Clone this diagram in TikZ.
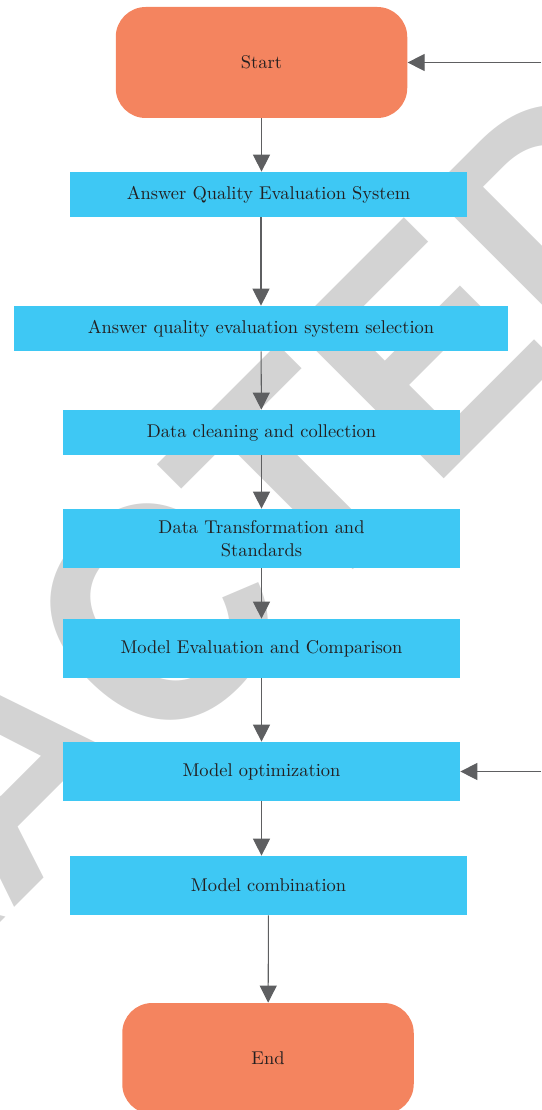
\documentclass[tikz,border=0pt]{standalone}
\usepackage{fontspec}
\usepackage{tikz}
\usetikzlibrary{arrows.meta,positioning}

\newfontfamily\stampfont{Liberation Sans}

\definecolor{termorange}{HTML}{F4845F}
\definecolor{stepblue}{HTML}{3EC8F4}
\definecolor{flowgray}{HTML}{5E5F61}
\definecolor{stampgray}{HTML}{D3D3D3}
\definecolor{labeltext}{HTML}{231F20}

\tikzset{
    terminal/.style={fill=termorange, rounded corners=0.6cm, minimum width=5.83cm, minimum height=2.22cm, text=labeltext, font=\fontsize{10.5}{13}\selectfont},
    stepbox/.style={fill=stepblue, minimum width=7.94cm, minimum height=0.9cm, text=labeltext, align=center, font=\fontsize{10.5}{13}\selectfont},
    flow/.style={draw=flowgray, line width=0.6pt, -{Triangle[length=3.4mm, width=3.4mm]}}
}

\begin{document}
\begin{tikzpicture}
    \useasboundingbox (0,0) rectangle (10.82,-22.2);

    % Draw the stamp in the background
    \begin{scope}
        \clip (0,0) rectangle (10.82,-22.2);
        \node[rotate=45, xscale=0.935, text=stampgray, font=\stampfont\bfseries\fontsize{176}{176}\selectfont, inner sep=0pt] (stamp) at (0.17,-15.27) {RETRACTED};
    \end{scope}

    % Draw the terminals
    \node[terminal] (start) at (5.23,-1.25) {Start};
    \node[terminal] (end) at (5.36,-21.17) {End};

    % Draw the steps
    \node[stepbox] (system) at (5.37,-3.89) {Answer Quality Evaluation System};
    \node[stepbox, minimum width=9.88cm] (select) at (5.22,-6.57) {Answer quality evaluation system selection};
    \node[stepbox] (clean) at (5.23,-8.65) {Data cleaning and collection};
    \node[stepbox, minimum height=1.18cm] (transform) at (5.23,-10.77) {Data Transformation and\\Standards};
    \node[stepbox, minimum height=1.18cm] (compare) at (5.23,-12.97) {Model Evaluation and Comparison};
    \node[stepbox, minimum height=1.18cm] (optimize) at (5.23,-15.43) {Model optimization};
    \node[stepbox, minimum height=1.18cm] (combine) at (5.37,-17.71) {Model combination};

    % Draw the arrows
    \draw[flow] (start) -- (start |- system.north);
    \draw[flow] (system.south -| select) -- (select);
    \draw[flow] (select) -- (clean);
    \draw[flow] (clean) -- (transform);
    \draw[flow] (transform) -- (compare);
    \draw[flow] (compare) -- (optimize);
    \draw[flow] (optimize) -- (optimize |- combine.north);
    \draw[flow] (combine) -- (end);

    % Draw the feedback inputs
    \coordinate (backtop) at (10.82,-1.25);
    \coordinate (backmid) at (10.82,-15.43);
    \draw[flow] (backtop) -- (start);
    \draw[flow] (backmid) -- (optimize);
\end{tikzpicture}
\end{document}
